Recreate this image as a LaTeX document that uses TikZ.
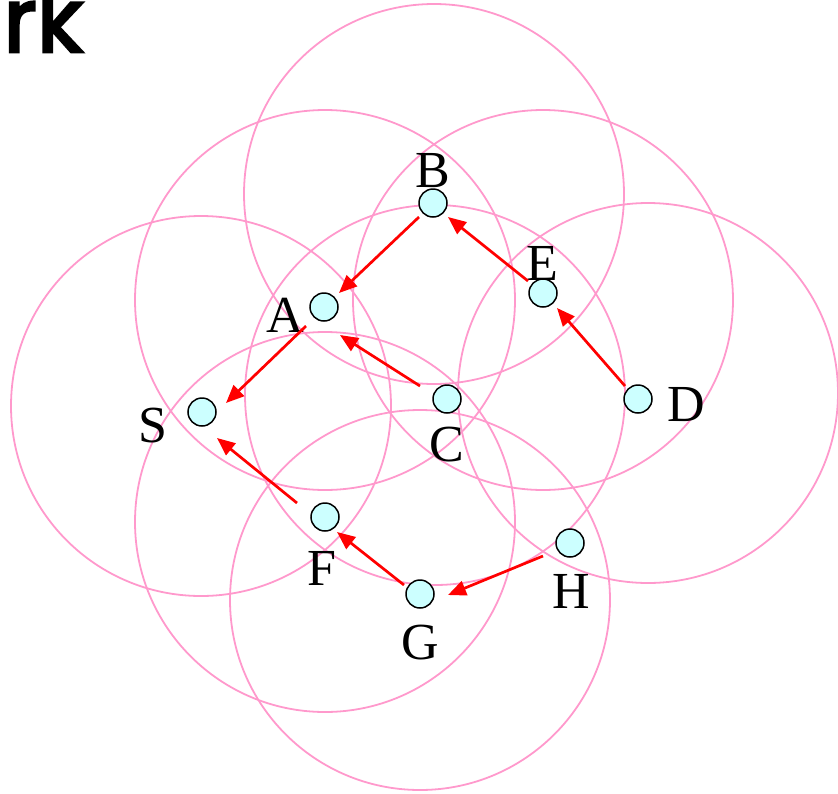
\documentclass[tikz,border=0pt]{standalone}
\usepackage{fontspec}
\setmainfont{Liberation Serif}
\newfontfamily\titlefont{Poppins}[FakeBold=3]
\usetikzlibrary{arrows.meta,calc}
\definecolor{ringpink}{RGB}{255,153,204}
\definecolor{nodecyan}{RGB}{204,255,255}
\begin{document}
\begin{tikzpicture}[x=1pt,y=-1pt,
  ring/.style={draw=ringpink,line width=1.8pt},
  dot/.style={circle,draw=black,line width=1.5pt,fill=nodecyan,minimum size=28pt,inner sep=0pt},
  lab/.style={anchor=base,inner sep=0pt,font=\fontsize{52}{60}\selectfont},
  arr/.style={draw=red,line width=2.7pt,-{Triangle[length=18pt,width=15pt]}}]
\useasboundingbox (0,0) rectangle (838,793);
% title
\node[anchor=base west,inner sep=0pt,font=\titlefont\fontsize{90}{90}\selectfont] (title) at (3,52) {rk};
% range circles
\draw[ring] (434,194) circle[radius=190pt];
\draw[ring] (325,300) circle[radius=190pt];
\draw[ring] (543,300) circle[radius=190pt];
\draw[ring] (201,406) circle[radius=190pt];
\draw[ring] (435,395) circle[radius=190pt];
\draw[ring] (648,393) circle[radius=190pt];
\draw[ring] (325,522) circle[radius=190pt];
\draw[ring] (420,600) circle[radius=190pt];
% nodes
\node[dot] (B) at (433,203) {};
\node[dot] (E) at (543,293) {};
\node[dot] (A) at (324,307) {};
\node[dot] (S) at (202,412) {};
\node[dot] (C) at (447,399) {};
\node[dot] (D) at (638,399) {};
\node[dot] (F) at (325,517) {};
\node[dot] (G) at (420,594) {};
\node[dot] (H) at (570,543) {};
% labels
\node[lab] (lB) at (433,187) {B};
\node[lab] (lE) at (542,280) {E};
\node[lab] (lA) at (285,332) {A};
\node[lab] (lS) at (153,442) {S};
\node[lab] (lC) at (447,461) {C};
\node[lab] (lD) at (686,421) {D};
\node[lab] (lF) at (322,585) {F};
\node[lab] (lG) at (420,659) {G};
\node[lab] (lH) at (571,608) {H};
% arrows
\draw[arr] ($(E)+(-15,-12)$) -- ($(B)+(15,14)$);
\draw[arr] ($(B)+(-14,14)$) -- ($(A)+(15,-14)$);
\draw[arr] ($(A)+(-18,19)$) -- ($(S)+(24,-9)$);
\draw[arr] ($(C)+(-27,-13)$) -- ($(A)+(16,28)$);
\draw[arr] ($(D)+(-13,-13)$) -- ($(E)+(14,15)$);
\draw[arr] ($(F)+(-28,-14)$) -- ($(S)+(15,26)$);
\draw[arr] ($(G)+(-16,-9)$) -- ($(F)+(12,15)$);
\draw[arr] ($(H)+(-27,13)$) -- ($(G)+(28,1)$);
\end{tikzpicture}
\end{document}
